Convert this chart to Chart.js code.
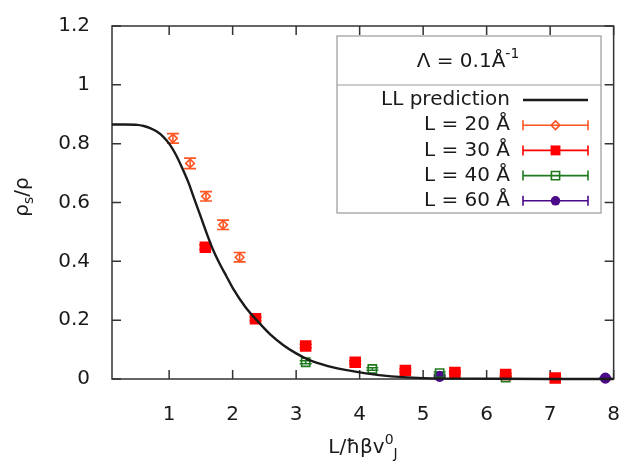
<!DOCTYPE html>
<html>
<head>
<meta charset="utf-8">
<script src="https://cdn.jsdelivr.net/npm/chart.js@4/dist/chart.umd.min.js"></script>
<style>
  html, body { margin: 0; background: #fff; }
  #wrap { width: 636px; height: 465px; }
</style>
</head>
<body>
<div id="wrap"><canvas id="c" width="636" height="465"></canvas></div>
<script>
const FONT = "DejaVu Sans";
const TXT = "#1a1a1a";

const xTicks = [1, 2, 3, 4, 5, 6, 7, 8];
const yTicks = [0, 0.2, 0.4, 0.6, 0.8, 1, 1.2];

// LL prediction curve
const llX = [0.1, 0.3, 0.5, 0.6, 0.7, 0.8, 0.9, 1.0, 1.1, 1.2, 1.3, 1.4, 1.5, 1.6, 1.7, 1.8, 1.9, 2.0, 2.2, 2.4, 2.6, 2.8, 3.0, 3.2, 3.5, 3.8, 4.1, 4.5, 5.0, 6.0, 7.0, 8.0];
const llY = [0.865, 0.865, 0.864, 0.86, 0.853, 0.842, 0.825, 0.80, 0.765, 0.72, 0.67, 0.61, 0.55, 0.49, 0.435, 0.39, 0.35, 0.31, 0.245, 0.195, 0.15, 0.115, 0.087, 0.065, 0.044, 0.03, 0.019, 0.009, 0.003, 0.001, 0, 0];

const l20X = [1.06, 1.33, 1.58, 1.85, 2.11];
const l20Y = [0.818, 0.733, 0.621, 0.524, 0.414];
const l20Err = [0.016, 0.018, 0.016, 0.016, 0.016];

const l30X = [1.57, 2.36, 3.15, 3.93, 4.72, 5.50, 6.30, 7.08];
const l30Y = [0.448, 0.205, 0.112, 0.057, 0.029, 0.022, 0.015, 0.003];
const l30Err = [0.008, 0.006, 0.006, 0.005, 0.005, 0.004, 0.004, 0.003];

const l40X = [3.15, 4.20, 5.26, 6.30];
const l40Y = [0.057, 0.034, 0.020, 0.005];
const l40Err = [0.005, 0.004, 0.004, 0.003];

const l60X = [5.26, 7.87];
const l60Y = [0.009, 0.003];
const l60Err = [0.002, 0.002];

const pts = (xs, ys) => xs.map((x, i) => ({ x, y: ys[i] }));

const series = [
  { label: "L = 20 Å", xs: l20X, ys: l20Y, err: l20Err, color: "#ff5522", style: "rectRot", r: 4.3, fill: false },
  { label: "L = 30 Å", xs: l30X, ys: l30Y, err: l30Err, color: "#ff0000", style: "rect", r: 7, fill: true },
  { label: "L = 40 Å", xs: l40X, ys: l40Y, err: l40Err, color: "#1f7a1f", style: "rect", r: 5.8, fill: false },
  { label: "L = 60 Å", xs: l60X, ys: l60Y, err: l60Err, color: "#4b0a8a", style: "circle", r: 4.8, fill: true }
];

const datasets = [{
  label: "LL prediction",
  data: pts(llX, llY),
  showLine: true,
  borderColor: "#1a1a1a",
  borderWidth: 2.4,
  pointRadius: 0,
  cubicInterpolationMode: "monotone",
  clip: false
}].concat(series.map(s => ({
  label: s.label,
  data: pts(s.xs, s.ys),
  err: s.err,
  showLine: false,
  pointStyle: s.style,
  pointRadius: s.r,
  borderColor: s.color,
  backgroundColor: s.fill ? s.color : "rgba(0,0,0,0)",
  borderWidth: 1.6,
  clip: false
})));

function marker(ctx, style, x, y, r, color, fill) {
  ctx.save();
  ctx.strokeStyle = color; ctx.fillStyle = color; ctx.lineWidth = 1.6;
  ctx.beginPath();
  if (style === "circle") ctx.arc(x, y, r, 0, Math.PI * 2);
  else if (style === "rect") { const h = r * Math.SQRT1_2; ctx.rect(x - h, y - h, 2 * h, 2 * h); }
  else { ctx.moveTo(x, y - r); ctx.lineTo(x + r, y); ctx.lineTo(x, y + r); ctx.lineTo(x - r, y); ctx.closePath(); }
  if (fill) ctx.fill(); else ctx.stroke();
  ctx.restore();
}

function rich(ctx, parts, x, y, align) {
  let w = 0;
  parts.forEach(p => { ctx.font = p.size + "px '" + FONT + "'"; w += ctx.measureText(p.t).width; });
  let cx = align === "center" ? x - w / 2 : (align === "right" ? x - w : x);
  parts.forEach(p => {
    ctx.font = p.size + "px '" + FONT + "'";
    ctx.fillText(p.t, cx, y + (p.dy || 0));
    cx += ctx.measureText(p.t).width;
  });
}

const errorBars = {
  id: "errorBars",
  beforeDatasetsDraw(chart) {
    const ctx = chart.ctx, ys = chart.scales.y;
    chart.data.datasets.forEach((ds, i) => {
      if (!ds.err) return;
      const meta = chart.getDatasetMeta(i);
      ctx.save();
      ctx.strokeStyle = ds.borderColor; ctx.lineWidth = 1.6;
      meta.data.forEach((p, j) => {
        const v = ds.data[j].y, e = ds.err[j];
        const y1 = ys.getPixelForValue(v - e), y2 = ys.getPixelForValue(v + e);
        ctx.beginPath();
        ctx.moveTo(p.x, y1); ctx.lineTo(p.x, y2);
        ctx.moveTo(p.x - 6, y1); ctx.lineTo(p.x + 6, y1);
        ctx.moveTo(p.x - 6, y2); ctx.lineTo(p.x + 6, y2);
        ctx.stroke();
      });
      ctx.restore();
    });
  }
};

const frame = {
  id: "frame",
  beforeDatasetsDraw(chart) {
    const ctx = chart.ctx, a = chart.chartArea, xs = chart.scales.x, ys = chart.scales.y;
    ctx.save();
    ctx.strokeStyle = "#333"; ctx.lineWidth = 1.5;
    ctx.strokeRect(a.left, a.top, a.right - a.left, a.bottom - a.top);
    ctx.beginPath();
    xTicks.forEach(v => {
      const px = xs.getPixelForValue(v);
      ctx.moveTo(px, a.bottom); ctx.lineTo(px, a.bottom - 9);
      ctx.moveTo(px, a.top); ctx.lineTo(px, a.top + 9);
    });
    yTicks.forEach(v => {
      const py = ys.getPixelForValue(v);
      ctx.moveTo(a.left, py); ctx.lineTo(a.left + 9, py);
      ctx.moveTo(a.right, py); ctx.lineTo(a.right - 9, py);
    });
    ctx.stroke();
    ctx.restore();
  }
};

const keyBox = {
  id: "keyBox",
  afterDraw(chart) {
    const ctx = chart.ctx;
    const L = 337, R = 601, T = 36, B = 213, S = 85;
    ctx.save();
    ctx.fillStyle = "#fff";
    ctx.fillRect(L, T, R - L, B - T);
    ctx.strokeStyle = "#999"; ctx.lineWidth = 1.2;
    ctx.strokeRect(L, T, R - L, B - T);
    ctx.beginPath(); ctx.moveTo(L, S); ctx.lineTo(R, S); ctx.stroke();
    ctx.fillStyle = TXT; ctx.textBaseline = "middle";
    rich(ctx, [{ t: "Λ = 0.1Å", size: 20 }, { t: "-1", size: 14, dy: -8 }], 468, 62, "center");
    chart.data.datasets.forEach((ds, i) => {
      const y = 100 + 25.2 * i;
      ctx.fillStyle = TXT; ctx.textAlign = "right";
      ctx.font = "20px '" + FONT + "'";
      ctx.fillText(ds.label, 510, y);
      ctx.textAlign = "left";
      ctx.strokeStyle = ds.borderColor; ctx.lineWidth = i === 0 ? 2.4 : 1.6;
      ctx.beginPath(); ctx.moveTo(523, y); ctx.lineTo(588, y);
      if (i > 0) { ctx.moveTo(523, y - 5); ctx.lineTo(523, y + 5); ctx.moveTo(588, y - 5); ctx.lineTo(588, y + 5); }
      ctx.stroke();
      if (i > 0) {
        const s = series[i - 1];
        marker(ctx, s.style, 555.5, y, s.r, s.color, s.fill);
      }
    });
    ctx.restore();
  }
};

const titles = {
  id: "titles",
  afterDraw(chart) {
    const ctx = chart.ctx;
    ctx.save();
    ctx.fillStyle = TXT; ctx.textBaseline = "alphabetic";
    rich(ctx, [{ t: "L/ħβv", size: 20 }, { t: "0", size: 14, dy: -9 }, { t: "J", size: 14, dy: 5 }], 363, 453, "center");
    ctx.translate(28, 197);
    ctx.rotate(-Math.PI / 2);
    rich(ctx, [{ t: "ρ", size: 20 }, { t: "s", size: 14, dy: 5 }, { t: "/ρ", size: 20 }], 0, 0, "center");
    ctx.restore();
  }
};

new Chart(document.getElementById("c"), {
  type: "scatter",
  data: { datasets },
  options: {
    responsive: false,
    animation: false,
    layout: { padding: { left: 0, top: 12, right: 9, bottom: 0 } },
    plugins: { legend: { display: false }, tooltip: { enabled: false } },
    scales: {
      x: {
        type: "linear", min: 0.1, max: 8,
        afterBuildTicks: s => { s.ticks = xTicks.map(v => ({ value: v })); },
        afterFit: s => { s.height = 86; },
        grid: { display: false }, border: { display: false },
        ticks: { color: TXT, padding: 16, font: { family: FONT, size: 20 }, callback: v => String(v) }
      },
      y: {
        type: "linear", min: 0, max: 1.2,
        afterBuildTicks: s => { s.ticks = yTicks.map(v => ({ value: v })); },
        afterFit: s => { s.width = 112; },
        grid: { display: false }, border: { display: false },
        ticks: { color: TXT, padding: 14, font: { family: FONT, size: 20 }, callback: v => String(Math.round(v * 10) / 10) }
      }
    }
  },
  plugins: [frame, errorBars, keyBox, titles]
});
</script>
</body>
</html>
